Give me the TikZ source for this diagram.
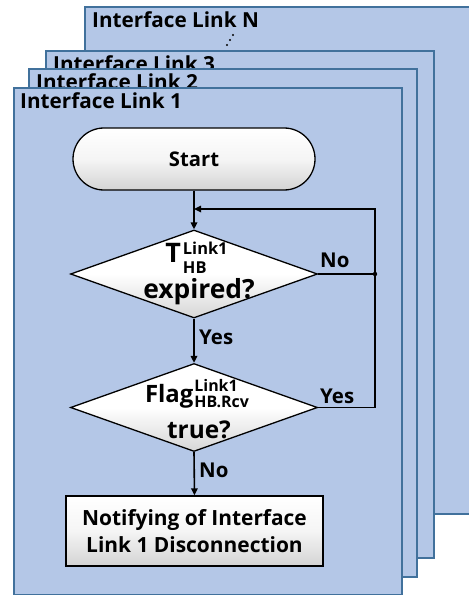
\documentclass[tikz,border=0pt]{standalone}
\usepackage{fontspec}
\setmainfont{Open Sans}
\usetikzlibrary{shapes.geometric,arrows.meta}
\definecolor{panelfill}{HTML}{B4C7E7}
\definecolor{paneledge}{HTML}{41719C}
\newcommand{\fsz}[1]{\fontsize{#1}{#1}\selectfont}
\begin{document}
\begin{tikzpicture}[x=1bp,y=-1bp,
  panel/.style={draw=paneledge, fill=panelfill, line width=1.4bp, anchor=north west, inner sep=0pt, outer sep=0pt},
  ptitle/.style={anchor=base west, inner sep=0pt, font=\bfseries\fsz{20.8}},
  flowline/.style={line width=1.6bp, black},
  arr/.style={flowline, -{Triangle[length=7bp,width=6.5bp]}},
  startbox/.style={draw=black, line width=1.3bp, top color=white, bottom color=black!17, middle color=white!96!black, rounded corners=31bp, minimum width=242bp, minimum height=62bp, inner sep=0pt, font=\bfseries\fsz{20.3}},
  decision/.style={diamond, draw=black, line width=1.3bp, top color=white, bottom color=black!16, middle color=white, minimum width=247bp, minimum height=88bp, inner sep=0pt},
  dtext/.style={anchor=base, inner sep=0pt},
  lbl/.style={anchor=base west, inner sep=0pt, font=\bfseries\fsz{20.5}},
  procbox/.style={draw=black, line width=1.3bp, top color=white, bottom color=black!17, middle color=white!96!black, minimum width=257bp, minimum height=70bp, inner sep=0pt, align=center, font=\bfseries\fontsize{21}{27}\selectfont}
]
\useasboundingbox (0,0) rectangle (469,596);
\clip (0,0) rectangle (469,596);
% panels
\node (pN) [panel, minimum width=400bp, minimum height=507bp] at (85,7) {};
\node (tN) [ptitle] at ([xshift=7bp,yshift=-21bp]pN.north west) {Interface Link N};
\fill (227,45) circle (1.2) (230,40) circle (1.2) (233,35) circle (1.2);
\node (p3) [panel, minimum width=388bp, minimum height=507bp] at (46,51) {};
\node (t3) [ptitle] at ([xshift=7bp,yshift=-21bp]p3.north west) {Interface Link 3};
\node (p2) [panel, minimum width=388bp, minimum height=508bp] at (29,69) {};
\node (t2) [ptitle] at ([xshift=7bp,yshift=-21bp]p2.north west) {Interface Link 2};
\node (p1) [panel, minimum width=388bp, minimum height=506.5bp] at (14,88) {};
\node (t1) [ptitle] at ([xshift=6bp,yshift=-21bp]p1.north west) {Interface Link 1};
% flowchart
\node (start) [startbox] at (194,159) {Start};
\node (d1) [decision] at (194,274) {};
\node (d1a) [dtext, font=\bfseries\fsz{27}] at (196.5,262) {T\kern2bp\raisebox{-11bp}{\rlap{\fsz{16.5}HB}}\raisebox{8bp}{\fsz{16.5}Link1}};
\node (d1b) [dtext, font=\bfseries\fsz{26.5}] at (199,298) {expired?};
\node (d2) [decision] at (194,407.5) {};
\node (d2a) [dtext, font=\bfseries\fsz{24}] at (197,402) {Flag\kern1bp\raisebox{11bp}{\rlap{\fsz{16}Link1}}\raisebox{-5bp}{\fsz{16}HB.Rcv}};
\node (d2b) [dtext, font=\bfseries\fsz{24.5}] at (199,438) {true?};
\node (box) [procbox] at (194.5,531) {Notifying of Interface\\Link 1 Disconnection};
\coordinate (j) at (194,209);
\coordinate (r1) at (375,274);
\coordinate (r2) at (375,407.5);
\draw[arr] (start.south) -- (d1.north);
\draw[flowline] (d1.east) -- (r1);
\fill (r1) circle (2.2);
\draw[arr] (d2.east) -- (r2) -- (r1) |- (j);
\draw[arr] (d1.south) -- (d2.north);
\draw[arr] (d2.south) -- (box.north);
\node (lno1) [lbl] at (320,267) {No};
\node (lyes1) [lbl] at (199,344) {Yes};
\node (lyes2) [lbl] at (320,403) {Yes};
\node (lno2) [lbl] at (199,477) {No};
\end{tikzpicture}
\end{document}
